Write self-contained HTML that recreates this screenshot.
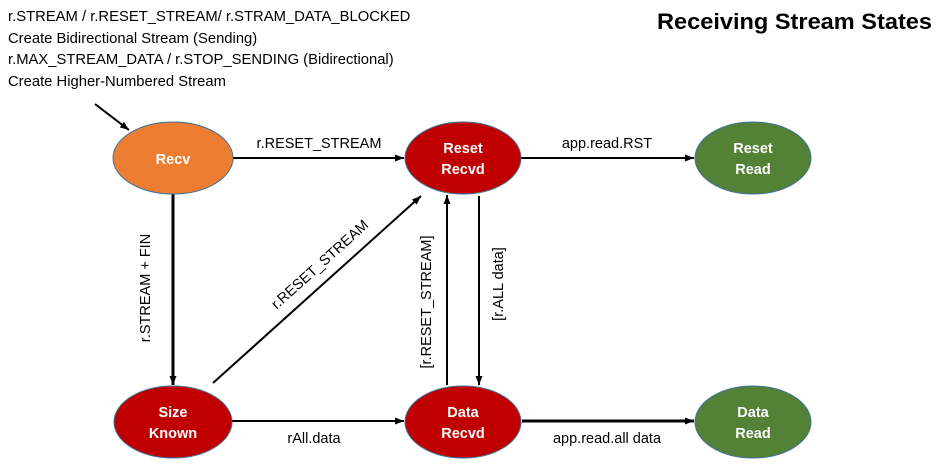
<!DOCTYPE html>
<html><head><meta charset="utf-8"><style>
body{margin:0;background:#fff;width:939px;height:463px;overflow:hidden}
svg{font-family:"Liberation Sans",sans-serif}
</style></head><body>
<svg width="939" height="463" viewBox="0 0 939 463" xmlns="http://www.w3.org/2000/svg">
<defs><marker id="a" markerWidth="10" markerHeight="10" refX="9" refY="5" orient="auto" markerUnits="userSpaceOnUse"><path d="M0,1.5 L9,5 L0,8.5 z" fill="#000"/></marker></defs>
<g font-size="14.8" fill="#000">
<text x="8" y="21">r.STREAM / r.RESET_STREAM/ r.STRAM_DATA_BLOCKED</text>
<text x="8" y="43">Create Bidirectional Stream (Sending)</text>
<text x="8" y="64">r.MAX_STREAM_DATA / r.STOP_SENDING (Bidirectional)</text>
<text x="8" y="86">Create Higher-Numbered Stream</text>
</g>
<text x="932" y="29" text-anchor="end" font-size="22.5" font-weight="bold" textLength="275" lengthAdjust="spacingAndGlyphs">Receiving Stream States</text>
<g stroke="#000" stroke-width="2" fill="none">
<line x1="95" y1="104" x2="129" y2="130" marker-end="url(#a)"/>
<line x1="232" y1="158" x2="404" y2="158" marker-end="url(#a)"/>
<line x1="521" y1="158" x2="694" y2="158" marker-end="url(#a)"/>
<line x1="173" y1="194" x2="173" y2="385" stroke-width="3" marker-end="url(#a)"/>
<line x1="232" y1="421" x2="404" y2="421" marker-end="url(#a)"/>
<line x1="522" y1="421" x2="694" y2="421" stroke-width="3" marker-end="url(#a)"/>
<line x1="213" y1="383" x2="421" y2="196" marker-end="url(#a)"/>
<line x1="447" y1="385" x2="447" y2="195" marker-end="url(#a)"/>
<line x1="479" y1="196" x2="479" y2="385" marker-end="url(#a)"/>
</g>
<g stroke="#41719c" stroke-width="1">
<ellipse cx="173" cy="158" rx="60" ry="36" fill="#ed7d31"/>
<ellipse cx="463" cy="158" rx="58" ry="36" fill="#c00000"/>
<ellipse cx="753" cy="158" rx="58" ry="36" fill="#538135"/>
<ellipse cx="173" cy="422" rx="59" ry="36" fill="#c00000"/>
<ellipse cx="463" cy="422" rx="58" ry="36" fill="#c00000"/>
<ellipse cx="753" cy="422" rx="58" ry="36" fill="#538135"/>
</g>
<g fill="#fff" font-weight="bold" font-size="14.5" text-anchor="middle">
<text x="173" y="164">Recv</text>
<text x="463" y="153">Reset</text><text x="463" y="174">Recvd</text>
<text x="753" y="153">Reset</text><text x="753" y="174">Read</text>
<text x="173" y="417">Size</text><text x="173" y="438">Known</text>
<text x="463" y="417">Data</text><text x="463" y="438">Recvd</text>
<text x="753" y="417">Data</text><text x="753" y="438">Read</text>
</g>
<g font-size="14.5" fill="#000">
<text x="319" y="148" text-anchor="middle">r.RESET_STREAM</text>
<text x="607" y="148" text-anchor="middle">app.read.RST</text>
<text x="314" y="443" text-anchor="middle">rAll.data</text>
<text x="607" y="443" text-anchor="middle">app.read.all data</text>
<text transform="translate(150,288) rotate(-90)" text-anchor="middle">r.STREAM + FIN</text>
<text transform="translate(323,268) rotate(-42)" text-anchor="middle">r.RESET_STREAM</text>
<text transform="translate(431,302) rotate(-90)" text-anchor="middle">[r.RESET_STREAM]</text>
<text transform="translate(503,284) rotate(-90)" text-anchor="middle">[r.ALL data]</text>
</g>
</svg>
</body></html>
